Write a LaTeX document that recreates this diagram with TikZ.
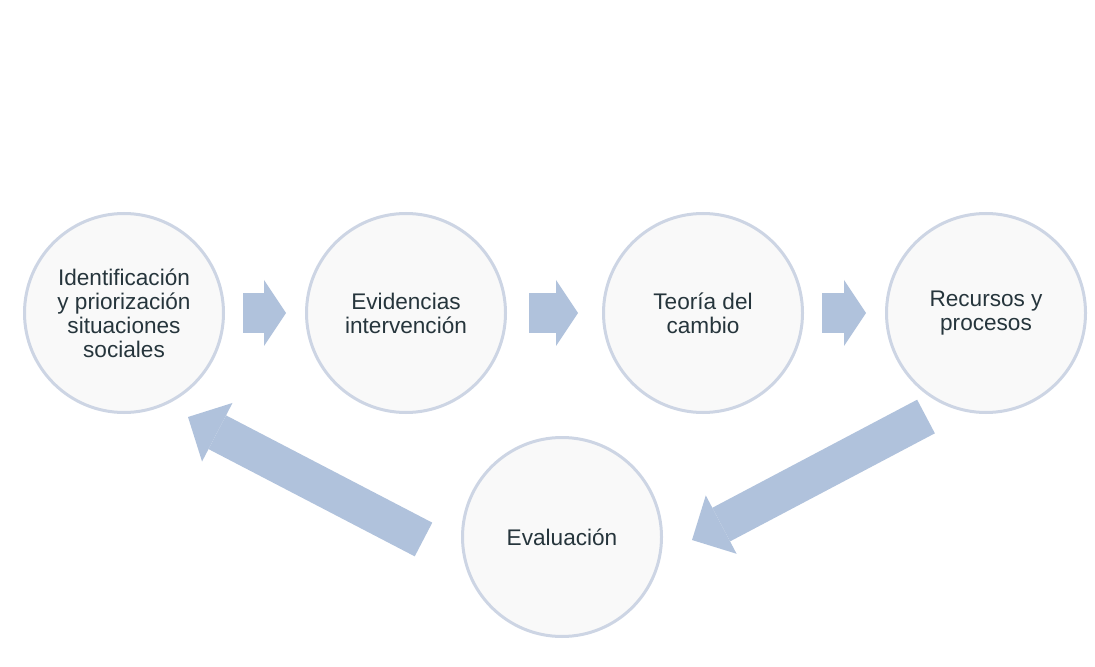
\documentclass[tikz,border=0pt]{standalone}
\usepackage{fontspec}
\setmainfont{Liberation Sans}
\usetikzlibrary{arrows.meta}
\definecolor{ringgray}{HTML}{CDD5E4}
\definecolor{discfill}{HTML}{F9F9F9}
\definecolor{flowblue}{HTML}{B0C2DC}
\definecolor{labelink}{HTML}{26353C}
\tikzset{
	stage/.style={circle, draw=ringgray, line width=1.5pt, fill=discfill, minimum size=99.5pt, inner sep=0pt, align=center, text=labelink, font=\fontsize{11.3}{12}\selectfont},
	stepflow/.style={draw=flowblue, line width=20pt, line cap=butt, -{Triangle[length=11pt, width=33pt, line width=0pt]}, shorten <=9pt, shorten >=9.5pt},
	cycleflow/.style={draw=flowblue, line width=19pt, line cap=butt, -{Triangle[length=16.5pt, width=33pt, line width=0pt]}}
}
\begin{document}
\begin{tikzpicture}[x=0.5pt, y=-0.5pt]
	\path[use as bounding box] (0, 0) rectangle (1095, 667);
	\node[stage] (ident) at (124, 313) {Identificación\\y priorización\\situaciones\\sociales};
	\node[stage] (evid) at (406, 313) {Evidencias\\intervención};
	\node[stage] (teoria) at (703, 313) {Teoría del\\cambio};
	\node[stage] (recur) at (986, 313) {Recursos y\\procesos};
	\node[stage] (eval) at (562, 537) {Evaluación};
	\draw[stepflow] (ident) -- (evid);
	\draw[stepflow, shorten <=11pt, shorten >=12pt] (evid) -- (teoria);
	\draw[stepflow] (teoria) -- (recur);
	\coordinate (recout) at ([shift={(-60, 103.5)}]recur.center);
	\coordinate (evalin) at ([shift={(130, 3)}]eval.center);
	\coordinate (evalout) at ([shift={(-138.5, 2.5)}]eval.center);
	\coordinate (identin) at ([shift={(64, 104)}]ident.center);
	\draw[cycleflow] (recout) -- (evalin);
	\draw[cycleflow] (evalout) -- (identin);
\end{tikzpicture}
\end{document}
